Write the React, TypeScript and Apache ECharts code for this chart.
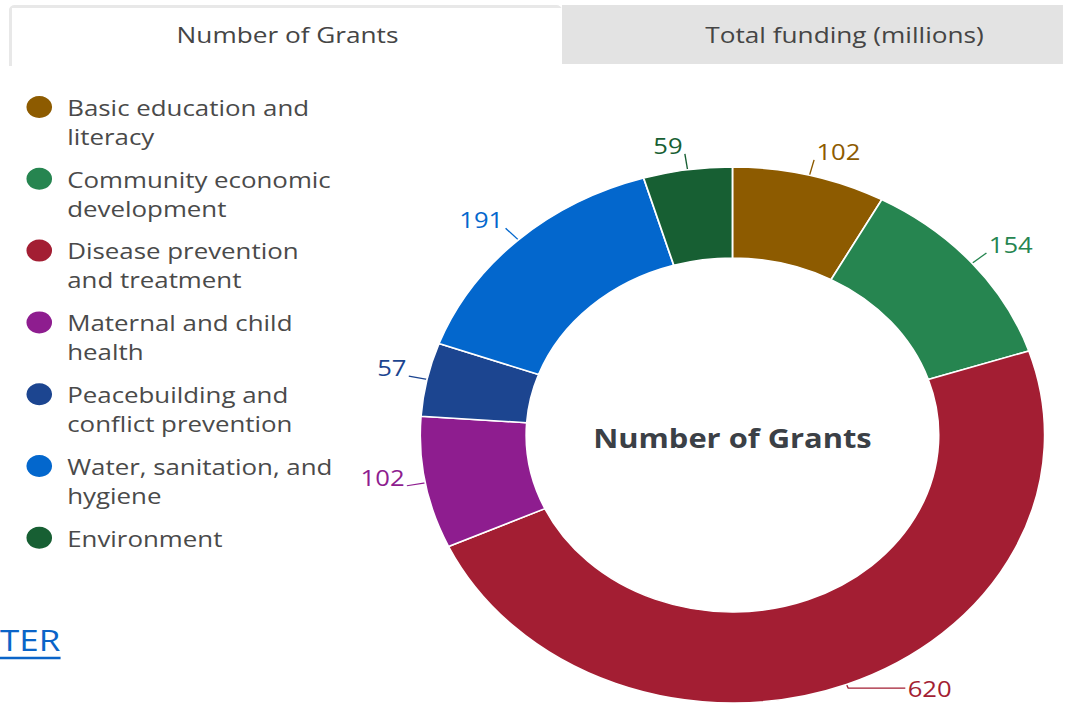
import React, { useEffect, useRef } from "react";
import * as echarts from "echarts";

// ---- data ----
const categories = [
  "Basic education and literacy",
  "Community economic development",
  "Disease prevention and treatment",
  "Maternal and child health",
  "Peacebuilding and conflict prevention",
  "Water, sanitation, and hygiene",
  "Environment",
];
const legendLines = [
  ["Basic education and", "literacy"],
  ["Community economic", "development"],
  ["Disease prevention", "and treatment"],
  ["Maternal and child", "health"],
  ["Peacebuilding and", "conflict prevention"],
  ["Water, sanitation, and", "hygiene"],
  ["Environment", ""],
];
const grantCounts = [102, 154, 620, 102, 57, 191, 59];
const sliceColors = ["#8d5b00", "#268550", "#a31e33", "#8e1d8f", "#1c4590", "#0367cd", "#175f33"];
const tabLabels = ["Number of Grants", "Total funding (millions)"];
const centerTitle = "Number of Grants";
const linkText = "TER";

// ---- layout ----
const SX = 1.165; // horizontal stretch of the reference
const W = 1067 / SX;
const H = 710;
const FONT = "'Open Sans', 'Noto Sans', sans-serif";
const CX = 628.7;
const CY = 435;

export default function App() {
  const ref = useRef<HTMLDivElement>(null);

  useEffect(() => {
    if (!ref.current) return;
    const chart = echarts.init(ref.current, undefined, { renderer: "svg" });

    const pieData = categories.map((name, i) => ({
      name,
      value: grantCounts[i],
      itemStyle: { color: sliceColors[i] },
      label:
        i === 2
          ? { color: sliceColors[i], formatter: "{c}" }
          : { color: sliceColors[i] },
      labelLine:
        i === 2
          ? { length: 4, length2: 49, lineStyle: { color: sliceColors[i] } }
          : { lineStyle: { color: sliceColors[i] } },
    }));

    chart.setOption({
      animation: false,
      legend: {
        orient: "vertical",
        left: 22.7,
        top: 63.5,
        padding: 0,
        icon: "circle",
        itemWidth: 38,
        itemHeight: 22,
        itemGap: -15.2,
        itemStyle: { borderWidth: 0 },
        selectedMode: false,
        textStyle: {
          fontFamily: FONT,
          fontSize: 22.2,
          lineHeight: 29,
          color: "#4a4a4a",
          backgroundColor: "rgba(255,255,255,0)",
        },
        data: categories,
        formatter: (name: string) => "\n" + legendLines[categories.indexOf(name)].join("\n"),
      },
      series: [
        {
          type: "pie",
          center: [CX, CY],
          radius: [177, 268],
          startAngle: 90,
          clockwise: true,
          avoidLabelOverlap: false,
          emphasis: { disabled: true },
          itemStyle: { borderColor: "#ffffff", borderWidth: 1.5 },
          label: {
            show: true,
            position: "outside",
            formatter: "{c}\n",
            fontFamily: FONT,
            fontSize: 22,
            lineHeight: 18,
            distanceToLabelLine: 2,
          },
          labelLine: {
            show: true,
            length: 16,
            length2: 0,
            lineStyle: { width: 1.2 },
          },
          data: pieData,
        },
      ],
      graphic: [
        {
          type: "rect",
          silent: true,
          shape: { x: 7.7, y: 5, width: 474.7, height: 61, r: [5, 5, 0, 0] },
          style: { fill: "#e8e8e8" },
        },
        {
          type: "rect",
          silent: true,
          shape: { x: 10.3, y: 8, width: 472.1, height: 58 },
          style: { fill: "#ffffff" },
        },
        {
          type: "rect",
          silent: true,
          shape: { x: 482.4, y: 5, width: 430, height: 59 },
          style: { fill: "#e3e3e3" },
        },
        {
          type: "text",
          x: 246.8,
          y: 34,
          style: {
            text: tabLabels[0],
            fontFamily: FONT,
            fontSize: 22.5,
            fill: "#454545",
            align: "center",
            verticalAlign: "middle",
          },
        },
        {
          type: "text",
          x: 724.9,
          y: 34,
          style: {
            text: tabLabels[1],
            fontFamily: FONT,
            fontSize: 22.5,
            fill: "#454545",
            align: "center",
            verticalAlign: "middle",
          },
        },
        {
          type: "text",
          x: CX,
          y: 437,
          style: {
            text: centerTitle,
            fontFamily: FONT,
            fontWeight: "bold",
            fontSize: 26.5,
            fill: "#3b4046",
            align: "center",
            verticalAlign: "middle",
          },
        },
        {
          type: "text",
          x: 0,
          y: 639,
          style: {
            text: linkText,
            fontFamily: FONT,
            fontSize: 30,
            fill: "#0a64c8",
            align: "left",
            verticalAlign: "middle",
          },
        },
        {
          type: "line",
          silent: true,
          shape: { x1: 0, y1: 658, x2: 52, y2: 658 },
          style: { stroke: "#0a64c8", lineWidth: 2.5 },
        },
      ],
    });

    return () => chart.dispose();
  }, []);

  return (
    <div
      style={{
        position: "absolute",
        left: 0,
        top: 0,
        width: 1067,
        height: H,
        overflow: "hidden",
        background: "#ffffff",
      }}
    >
      <div
        ref={ref}
        style={{
          width: W,
          height: H,
          transform: `scaleX(${SX})`,
          transformOrigin: "0 0",
        }}
      />
    </div>
  );
}
